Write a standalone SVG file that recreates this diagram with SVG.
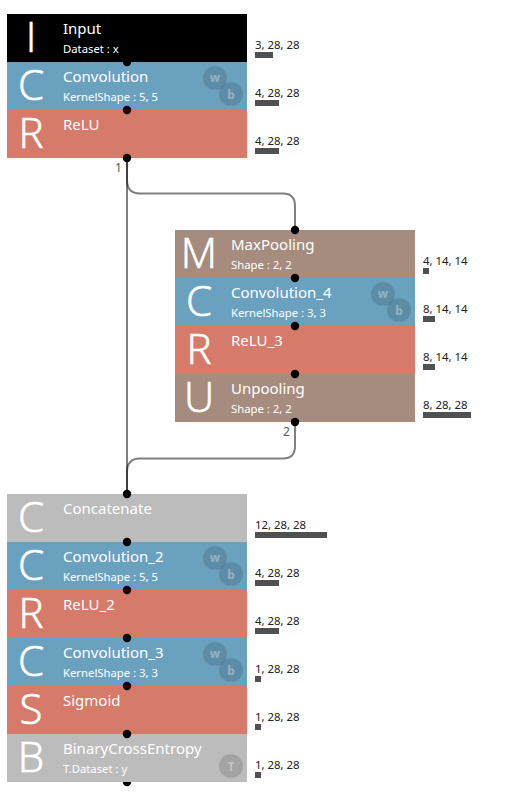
<svg xmlns="http://www.w3.org/2000/svg" width="506" height="799" viewBox="0 0 506 799">
<style>
text{font-family:"Noto Sans","Open Sans","Liberation Sans",sans-serif}
.b{shape-rendering:crispEdges}
.l{font-size:42px;fill:#fff;stroke:#fff;stroke-width:.7px;text-anchor:middle;font-family:"Open Sans","Noto Sans",sans-serif;font-weight:300}
.t{font-size:15px;fill:#fff}
.s{font-size:11.3px;fill:#fff}
.o{font-size:11.4px;fill:#222}
.bar{fill:#505050}
.c{fill:#000;fill-opacity:.13}
.g{font-size:12px;fill:#fff;fill-opacity:.35;text-anchor:middle;font-weight:700}
.d{fill:#000}
.w{fill:none;stroke:#000;stroke-opacity:.5;stroke-width:2}
.n{font-size:12px;fill:#555}
</style>
<defs>
<g id="wb"><circle cx="215" cy="78" r="12" class="c"/><circle cx="231" cy="94" r="12" class="c"/><text x="215" y="82" class="g">w</text><text x="231" y="99" class="g">b</text></g>
</defs>
<g id="connectors">
<path class="w" d="M127 158V180Q127 193.500 140 193.500H283Q295 193.500 295 206V230"/>
<path class="w" d="M127 158V494"/>
<path class="w" d="M295 422V446Q295 458.500 283 458.500H140Q127 458.500 127 472V494"/>
</g>
<g id="input"><rect class="b" x="7" y="14" width="240" height="48" fill="#000"/><text x="31" y="52" class="l">I</text><text x="63" y="34" class="t">Input</text><text x="63" y="53" class="s">Dataset : x</text><text x="255" y="49" class="o">3, 28, 28</text><rect class="bar" x="255" y="52" width="18" height="6"/></g>
<g id="conv"><rect class="b" x="7" y="62" width="240" height="48" fill="#6aa1bf"/><text x="31" y="100" class="l">C</text><text x="63" y="82" class="t">Convolution</text><text x="63" y="101" class="s">KernelShape : 5, 5</text><use href="#wb"/><text x="255" y="97" class="o">4, 28, 28</text><rect class="bar" x="255" y="100" width="24" height="6"/></g>
<g id="relu"><rect class="b" x="7" y="110" width="240" height="48" fill="#d67a69"/><text x="31" y="148" class="l">R</text><text x="63" y="130" class="t">ReLU</text><text x="255" y="145" class="o">4, 28, 28</text><rect class="bar" x="255" y="148" width="24" height="6"/></g>
<g id="maxpool"><rect class="b" x="175" y="230" width="240" height="48" fill="#a58c7e"/><text x="199" y="268" class="l">M</text><text x="231" y="250" class="t">MaxPooling</text><text x="231" y="269" class="s">Shape : 2, 2</text><text x="423" y="265" class="o">4, 14, 14</text><rect class="bar" x="423" y="268" width="6" height="6"/></g>
<g id="conv4"><rect class="b" x="175" y="278" width="240" height="48" fill="#6aa1bf"/><text x="199" y="316" class="l">C</text><text x="231" y="298" class="t">Convolution_4</text><text x="231" y="317" class="s">KernelShape : 3, 3</text><use href="#wb" x="168" y="216"/><text x="423" y="313" class="o">8, 14, 14</text><rect class="bar" x="423" y="316" width="12" height="6"/></g>
<g id="relu3"><rect class="b" x="175" y="326" width="240" height="48" fill="#d67a69"/><text x="199" y="364" class="l">R</text><text x="231" y="346" class="t">ReLU_3</text><text x="423" y="361" class="o">8, 14, 14</text><rect class="bar" x="423" y="364" width="12" height="6"/></g>
<g id="unpool"><rect class="b" x="175" y="374" width="240" height="48" fill="#a58c7e"/><text x="199" y="412" class="l">U</text><text x="231" y="394" class="t">Unpooling</text><text x="231" y="413" class="s">Shape : 2, 2</text><text x="423" y="409" class="o">8, 28, 28</text><rect class="bar" x="423" y="412" width="48" height="6"/></g>
<g id="concat"><rect class="b" x="7" y="494" width="240" height="48" fill="#bcbcbc"/><text x="31" y="532" class="l">C</text><text x="63" y="514" class="t">Concatenate</text><text x="255" y="529" class="o">12, 28, 28</text><rect class="bar" x="255" y="532" width="72" height="6"/></g>
<g id="conv2"><rect class="b" x="7" y="542" width="240" height="48" fill="#6aa1bf"/><text x="31" y="580" class="l">C</text><text x="63" y="562" class="t">Convolution_2</text><text x="63" y="581" class="s">KernelShape : 5, 5</text><use href="#wb" y="480"/><text x="255" y="577" class="o">4, 28, 28</text><rect class="bar" x="255" y="580" width="24" height="6"/></g>
<g id="relu2"><rect class="b" x="7" y="590" width="240" height="48" fill="#d67a69"/><text x="31" y="628" class="l">R</text><text x="63" y="610" class="t">ReLU_2</text><text x="255" y="625" class="o">4, 28, 28</text><rect class="bar" x="255" y="628" width="24" height="6"/></g>
<g id="conv3"><rect class="b" x="7" y="638" width="240" height="48" fill="#6aa1bf"/><text x="31" y="676" class="l">C</text><text x="63" y="658" class="t">Convolution_3</text><text x="63" y="677" class="s">KernelShape : 3, 3</text><use href="#wb" y="576"/><text x="255" y="673" class="o">1, 28, 28</text><rect class="bar" x="255" y="676" width="6" height="6"/></g>
<g id="sigmoid"><rect class="b" x="7" y="686" width="240" height="48" fill="#d67a69"/><text x="31" y="724" class="l">S</text><text x="63" y="706" class="t">Sigmoid</text><text x="255" y="721" class="o">1, 28, 28</text><rect class="bar" x="255" y="724" width="6" height="6"/></g>
<g id="bce"><rect class="b" x="7" y="734" width="240" height="48" fill="#bcbcbc"/><text x="31" y="772" class="l">B</text><text x="63" y="754" class="t">BinaryCrossEntropy</text><text x="63" y="773" class="s">T.Dataset : y</text><circle cx="231" cy="766" r="12" class="c"/><text x="231" y="771" class="g">T</text><text x="255" y="769" class="o">1, 28, 28</text><rect class="bar" x="255" y="772" width="6" height="6"/></g>
<g id="ports">
<circle class="d" cx="127" cy="62" r="4.2"/><circle class="d" cx="127" cy="110" r="4.2"/><circle class="d" cx="127" cy="158" r="4.2"/><circle class="d" cx="295" cy="230" r="4.2"/><circle class="d" cx="295" cy="278" r="4.2"/><circle class="d" cx="295" cy="326" r="4.2"/><circle class="d" cx="295" cy="374" r="4.2"/><circle class="d" cx="295" cy="422" r="4.2"/><circle class="d" cx="127" cy="494" r="4.2"/><circle class="d" cx="127" cy="542" r="4.2"/><circle class="d" cx="127" cy="590" r="4.2"/><circle class="d" cx="127" cy="638" r="4.2"/><circle class="d" cx="127" cy="686" r="4.2"/><circle class="d" cx="127" cy="734" r="4.2"/><path class="d" d="M122.800 782a4.200 4.200 0 0 0 8.400 0z"/>
</g>
<text x="115" y="172" class="n">1</text>
<text x="283" y="436" class="n">2</text>
</svg>
